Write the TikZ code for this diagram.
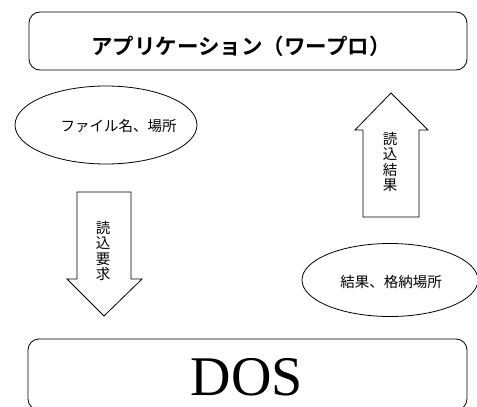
\documentclass[tikz,border=0pt]{standalone}
\usepackage{fontspec}
\setmainfont{Liberation Serif}
\newfontfamily\jp{Noto Sans CJK JP}
\newfontfamily\jpb{Noto Sans CJK JP Bold}
\usetikzlibrary{shapes.geometric}
\begin{document}
\begin{tikzpicture}[x=1pt,y=-1pt,
  line width=0.8pt,
  layerbox/.style={draw,rounded corners=11pt},
  bubble/.style={draw,ellipse,inner sep=0pt},
  bubbletext/.style={font=\jp\fontsize{14.5}{16}\selectfont},
  blockarrow/.style={draw,line join=miter},
  vtext/.style={font=\jp\fontsize{14.5}{15.5}\selectfont,align=center,inner sep=0pt}]
\useasboundingbox (0,0) rectangle (477,407);
\clip (0,0) rectangle (477,407);
% top box
\draw[layerbox] (29,12) rectangle (467,70);
\node[font=\jpb\fontsize{21.5}{24}\selectfont] (app) at (241,46) {アプリケーション（ワープロ）};
% bottom box
\draw[layerbox] (28,339) rectangle (467,410);
\node[font=\fontsize{56}{60}\selectfont,inner sep=0pt,anchor=base,text height=37pt,text depth=0pt] (dos) at (247,395) {DOS};
% left ellipse
\node[bubble,minimum width=182pt,minimum height=78pt] (req) at (106,125) {};
\node[bubbletext] at (118.5,126) {ファイル名、場所};
% right ellipse
\node[bubble,minimum width=176pt,minimum height=73pt] (res) at (390,280) {};
\node[bubbletext] at (391,282) {結果、格納場所};
% down arrow
\draw[blockarrow] (77,192) -- (131,192) -- (131,279) -- (142,279) -- (104,316)
  -- (67,279) -- (77,279) -- cycle;
\node[vtext] (down) at (103,251) {読\\込\\要\\求};
% up arrow
\draw[blockarrow] (363,217) -- (363,130) -- (355,130) -- (391,93) -- (428,130)
  -- (419,130) -- (419,217) -- cycle;
\node[vtext] (up) at (390,162) {読\\込\\結\\果};
\end{tikzpicture}
\end{document}
